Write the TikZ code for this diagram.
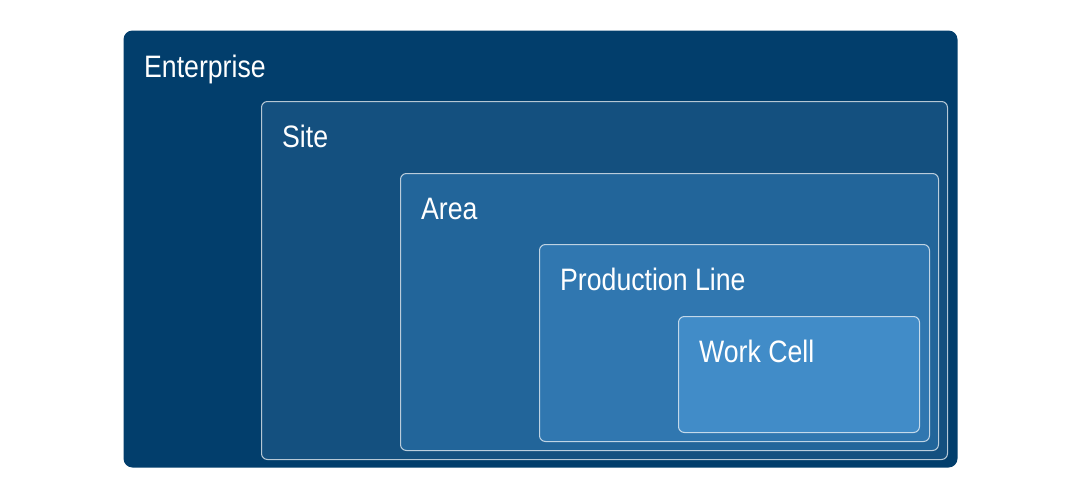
\documentclass[tikz,border=0pt]{standalone}
\usepackage{fontspec}
\newfontfamily\lblfont{Liberation Sans}[FakeStretch=0.86]
\usepackage{tikz}
\usetikzlibrary{positioning}

\definecolor{enterpriseblue}{HTML}{023E6C}
\definecolor{siteblue}{HTML}{14507F}
\definecolor{areablue}{HTML}{22659A}
\definecolor{lineblue}{HTML}{3077B0}
\definecolor{cellblue}{HTML}{418CC8}

\begin{document}
\begin{tikzpicture}[x=1pt,y=-1pt,
        level/.style={anchor=north west,inner sep=0pt,rounded corners=6pt,
            draw=white,draw opacity=0.7,line width=1pt},
        top level/.style={level,draw=none,rounded corners=9pt},
        lbl/.style={anchor=base west,inner sep=0pt,text=white,font=\lblfont\fontsize{31}{36}\selectfont}]

        \useasboundingbox[fill=white] (0,0) rectangle (1080,490);

        % nested hierarchy boxes
        \node[top level,fill=enterpriseblue,minimum width=834pt,minimum height=437pt] (ent) at (123,30) {};
        \node[level,fill=siteblue,minimum width=686pt,minimum height=358pt] (site) at (261,101) {};
        \node[level,fill=areablue,minimum width=538pt,minimum height=277pt] (area) at (400,173) {};
        \node[level,fill=lineblue,minimum width=390pt,minimum height=197pt] (pline) at (539,244) {};
        \node[level,fill=cellblue,minimum width=241pt,minimum height=116pt] (cell) at (678,316) {};

        % labels
        \node[lbl] (ent_lbl) at ([shift={(21,47)}]ent.north west) {Enterprise};
        \node[lbl] (site_lbl) at ([shift={(21,46)}]site.north west) {Site};
        \node[lbl] (area_lbl) at ([shift={(21,46)}]area.north west) {Area};
        \node[lbl] (pline_lbl) at ([shift={(21,46)}]pline.north west) {Production Line};
        \node[lbl] (cell_lbl) at ([shift={(21,46)}]cell.north west) {Work Cell};
    \end{tikzpicture}
\end{document}
